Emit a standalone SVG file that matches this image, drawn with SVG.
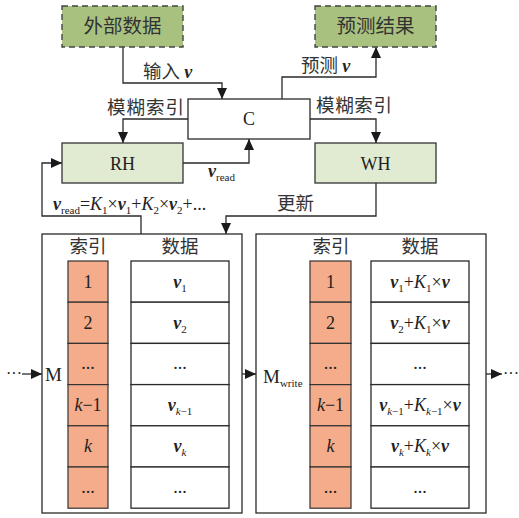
<svg xmlns="http://www.w3.org/2000/svg" width="519" height="518" viewBox="0 0 519 518">
<defs>
<marker id="ah" markerUnits="userSpaceOnUse" markerWidth="11" markerHeight="10" refX="11" refY="5" orient="auto">
<path d="M0,0 L11,5 L0,10 z" fill="#1a1a1a"/>
</marker>
<style>
.ln{fill:none;stroke:#2a2a2a;stroke-width:1.3}
.ar{fill:none;stroke:#2a2a2a;stroke-width:1.3;marker-end:url(#ah)}
.dash{fill:#a9c17f;stroke:#444;stroke-width:1.4;stroke-dasharray:6,4}
.lg{fill:#e1ebd1;stroke:#333;stroke-width:1.3}
.wb{fill:#fff;stroke:#2a2a2a;stroke-width:1.3}
.ix{fill:#f5ac8a;stroke:#333;stroke-width:1.2}
.cn{font-family:"Noto Sans CJK SC",sans-serif;font-size:18.5px;fill:#333}
.t{font-family:"Liberation Serif",serif;font-size:18px;fill:#222}
.v{font-weight:bold;font-style:italic}
.i{font-style:italic}
.s{font-size:11px}
.m{text-anchor:middle}
</style>
</defs>
<g id="connectors">
<polyline class="ar" points="123,47 123,83 222,83 222,99"/>
<polyline class="ar" points="188,119 123,119 123,143"/>
<polyline class="ar" points="310,119 376,119 376,143"/>
<polyline class="ar" points="282,99 282,77 376,77 376,47"/>
<polyline class="ar" points="183,163 249,163 249,139"/>
<polyline class="ar" points="376,183 376,216 226,216 226,234"/>
<polyline class="ar" points="141,234 141,216 42,216 42,163 62,163"/>
<line class="ar" x1="22" y1="374" x2="42" y2="374"/>
<line class="ar" x1="242" y1="374" x2="256" y2="374"/>
<line class="ar" x1="486" y1="374" x2="502" y2="374"/>
<line class="ar" x1="108" y1="281.6" x2="131" y2="281.6"/>
<line class="ar" x1="108" y1="322.8" x2="131" y2="322.8"/>
<line class="ar" x1="108" y1="405.2" x2="131" y2="405.2"/>
<line class="ar" x1="108" y1="446.4" x2="131" y2="446.4"/>
<line class="ar" x1="351" y1="281.6" x2="371" y2="281.6"/>
<line class="ar" x1="351" y1="322.8" x2="371" y2="322.8"/>
<line class="ar" x1="351" y1="405.2" x2="371" y2="405.2"/>
<line class="ar" x1="351" y1="446.4" x2="371" y2="446.4"/>
</g>
<g id="labels">
<text class="cn" x="143" y="78">输入 <tspan class="t v">v</tspan></text>
<text class="cn" x="301" y="72">预测 <tspan class="t v">v</tspan></text>
<text class="cn" x="107" y="114" textLength="77">模糊索引</text>
<text class="cn" x="316" y="112" textLength="76">模糊索引</text>
<text class="t" x="208" y="177"><tspan class="v">v</tspan><tspan class="s" dy="4">read</tspan></text>
<text class="cn" x="277" y="210">更新</text>
<text class="t" x="53" y="210"><tspan class="v">v</tspan><tspan class="s" dy="4">read</tspan><tspan dy="-4">=</tspan><tspan class="i">K</tspan><tspan class="s" dy="4">1</tspan><tspan dy="-4">×</tspan><tspan class="v">v</tspan><tspan class="s" dy="4">1</tspan><tspan dy="-4">+</tspan><tspan class="i">K</tspan><tspan class="s" dy="4">2</tspan><tspan dy="-4">×</tspan><tspan class="v">v</tspan><tspan class="s" dy="4">2</tspan><tspan dy="-4">+...</tspan></text>
<text class="t" x="6" y="379" style="font-size:16px">···</text>
<text class="t" x="503" y="379" style="font-size:16px">···</text>
</g>
<g id="ext-data"><rect class="dash" x="62" y="6" width="121" height="41"/><text class="cn m" x="122.5" y="33" style="font-size:19.5px">外部数据</text></g>
<g id="pred-result"><rect class="dash" x="315" y="6" width="121" height="41"/><text class="cn m" x="375.5" y="33" style="font-size:19.5px">预测结果</text></g>
<g id="C"><rect class="wb" x="188" y="99" width="122" height="40"/><text class="t m" x="249" y="125">C</text></g>
<g id="RH"><rect class="lg" x="62" y="143" width="121" height="40"/><text class="t m" x="122.5" y="169.5">RH</text></g>
<g id="WH"><rect class="lg" x="315" y="143" width="121" height="40"/><text class="t m" x="375.5" y="169.5">WH</text></g>
<g id="M">
<rect class="wb" x="42" y="234" width="200" height="279"/>
<text class="t" x="45" y="381" style="font-size:19px">M</text>
<text class="cn m" x="88" y="253">索引</text>
<text class="cn m" x="180" y="253">数据</text>
<rect class="ix" x="68" y="261" width="40" height="41.2"/>
<rect class="ix" x="68" y="302.2" width="40" height="41.2"/>
<rect class="ix" x="68" y="343.4" width="40" height="41.2"/>
<rect class="ix" x="68" y="384.6" width="40" height="41.2"/>
<rect class="ix" x="68" y="425.8" width="40" height="41.2"/>
<rect class="ix" x="68" y="467" width="40" height="41.2"/>
<rect class="wb" x="131" y="261" width="98" height="41.2"/>
<rect class="wb" x="131" y="302.2" width="98" height="41.2"/>
<rect class="wb" x="131" y="343.4" width="98" height="41.2"/>
<rect class="wb" x="131" y="384.6" width="98" height="41.2"/>
<rect class="wb" x="131" y="425.8" width="98" height="41.2"/>
<rect class="wb" x="131" y="467" width="98" height="41.2"/>
<text class="t m" x="88" y="288">1</text>
<text class="t m" x="88" y="329">2</text>
<text class="t m" x="88" y="369">...</text>
<text class="t m" x="88" y="411"><tspan class="i">k</tspan>−1</text>
<text class="t m" x="88" y="452"><tspan class="i">k</tspan></text>
<text class="t m" x="88" y="493">...</text>
<text class="t m" x="180" y="288"><tspan class="v">v</tspan><tspan class="s" dy="4">1</tspan></text>
<text class="t m" x="180" y="329"><tspan class="v">v</tspan><tspan class="s" dy="4">2</tspan></text>
<text class="t m" x="180" y="369">...</text>
<text class="t m" x="180" y="411"><tspan class="v">v</tspan><tspan class="s i" dy="4">k</tspan><tspan class="s" dy="0">−1</tspan></text>
<text class="t m" x="180" y="452"><tspan class="v">v</tspan><tspan class="s i" dy="4">k</tspan></text>
<text class="t m" x="180" y="493">...</text>
</g>
<g id="Mwrite">
<rect class="wb" x="256" y="234" width="230" height="279"/>
<text class="t" x="263" y="383" style="font-size:19px">M<tspan class="s" dy="4">write</tspan></text>
<text class="cn m" x="331" y="253">索引</text>
<text class="cn m" x="420" y="253">数据</text>
<rect class="ix" x="310" y="261" width="41" height="41.2"/>
<rect class="ix" x="310" y="302.2" width="41" height="41.2"/>
<rect class="ix" x="310" y="343.4" width="41" height="41.2"/>
<rect class="ix" x="310" y="384.6" width="41" height="41.2"/>
<rect class="ix" x="310" y="425.8" width="41" height="41.2"/>
<rect class="ix" x="310" y="467" width="41" height="41.2"/>
<rect class="wb" x="371" y="261" width="98" height="41.2"/>
<rect class="wb" x="371" y="302.2" width="98" height="41.2"/>
<rect class="wb" x="371" y="343.4" width="98" height="41.2"/>
<rect class="wb" x="371" y="384.6" width="98" height="41.2"/>
<rect class="wb" x="371" y="425.8" width="98" height="41.2"/>
<rect class="wb" x="371" y="467" width="98" height="41.2"/>
<text class="t m" x="330.5" y="288">1</text>
<text class="t m" x="330.5" y="329">2</text>
<text class="t m" x="330.5" y="369">...</text>
<text class="t m" x="330.5" y="411"><tspan class="i">k</tspan>−1</text>
<text class="t m" x="330.5" y="452"><tspan class="i">k</tspan></text>
<text class="t m" x="330.5" y="493">...</text>
<text class="t m" x="420" y="288"><tspan class="v">v</tspan><tspan class="s" dy="4">1</tspan><tspan dy="-4">+</tspan><tspan class="i">K</tspan><tspan class="s" dy="4">1</tspan><tspan dy="-4">×</tspan><tspan class="v">v</tspan></text>
<text class="t m" x="420" y="329"><tspan class="v">v</tspan><tspan class="s" dy="4">2</tspan><tspan dy="-4">+</tspan><tspan class="i">K</tspan><tspan class="s" dy="4">1</tspan><tspan dy="-4">×</tspan><tspan class="v">v</tspan></text>
<text class="t m" x="420" y="369">...</text>
<text class="t m" x="420" y="411"><tspan class="v">v</tspan><tspan class="s i" dy="4">k</tspan><tspan class="s">−1</tspan><tspan dy="-4">+</tspan><tspan class="i">K</tspan><tspan class="s i" dy="4">k</tspan><tspan class="s">−1</tspan><tspan dy="-4">×</tspan><tspan class="v">v</tspan></text>
<text class="t m" x="420" y="452"><tspan class="v">v</tspan><tspan class="s i" dy="4">k</tspan><tspan dy="-4">+</tspan><tspan class="i">K</tspan><tspan class="s i" dy="4">k</tspan><tspan dy="-4">×</tspan><tspan class="v">v</tspan></text>
<text class="t m" x="420" y="493">...</text>
</g>
</svg>
